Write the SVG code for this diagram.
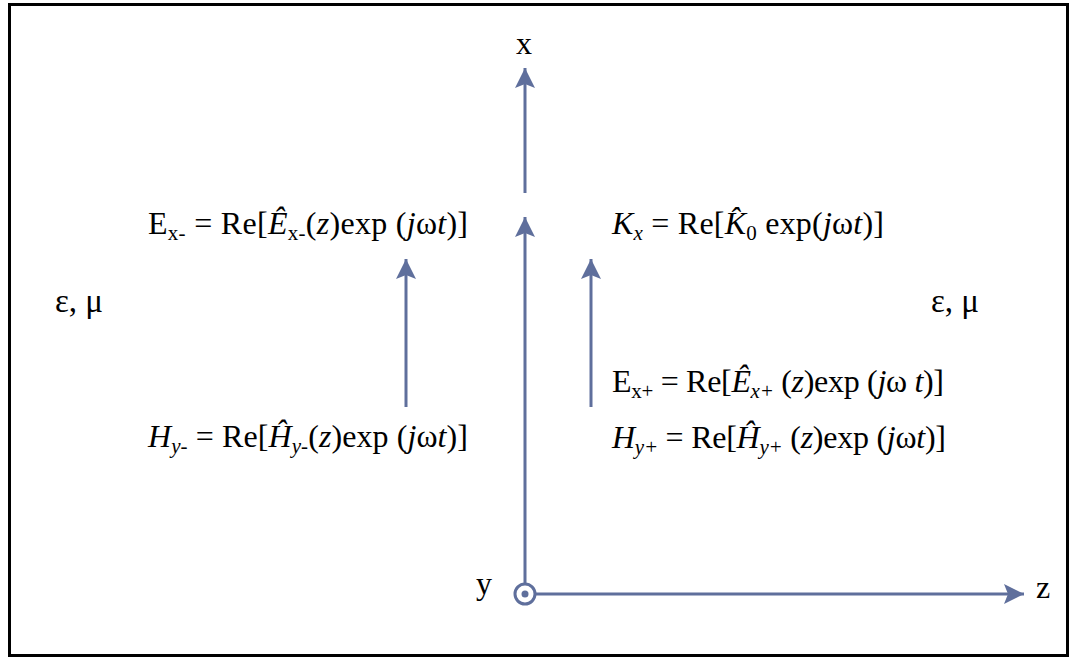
<svg xmlns="http://www.w3.org/2000/svg" width="1072" height="658" viewBox="0 0 1072 658">
<defs>
<style>
.t{font-family:"Liberation Serif","Times New Roman",serif;font-size:32px;fill:#000}
.i{font-style:italic}
.s{font-size:21px}
.ln{stroke:#5f6f9c;stroke-width:3;fill:none}
</style>
<marker id="ah" markerUnits="userSpaceOnUse" markerWidth="24" markerHeight="24" viewBox="-2 -12 24 24" refX="20" refY="0" orient="auto">
<path d="M0,-10 L20,0 L0,10 L4,0 Z" fill="#5f6f9c"/>
</marker>
</defs>
<rect x="9.5" y="4.5" width="1058" height="651" fill="#fff" stroke="#000" stroke-width="3"/>
<g id="connectors">
<line class="ln" x1="525" y1="193" x2="525" y2="68" marker-end="url(#ah)"/>
<line class="ln" x1="525" y1="583" x2="525" y2="217" marker-end="url(#ah)"/>
<line class="ln" x1="406" y1="407" x2="406" y2="259" marker-end="url(#ah)"/>
<line class="ln" x1="591" y1="407" x2="591" y2="259" marker-end="url(#ah)"/>
<line class="ln" x1="536" y1="594" x2="1024" y2="594" marker-end="url(#ah)"/>
</g>
<g id="origin">
<circle cx="525" cy="594" r="10" fill="#fff" stroke="#5f6f9c" stroke-width="3"/>
<circle cx="525" cy="594" r="3.5" fill="#5f6f9c"/>
</g>
<g id="axis-labels">
<text class="t" x="524" y="54" text-anchor="middle">x</text>
<text class="t" x="484" y="594" text-anchor="middle">y</text>
<text class="t" x="1043" y="598" text-anchor="middle">z</text>
</g>
<g id="media">
<text class="t" x="55" y="312" style="font-size:33px">ε, μ</text>
<text class="t" x="931" y="312" style="font-size:33px">ε, μ</text>
</g>
<g id="eq-ex-minus">
<text class="t" x="148" y="234" textLength="320">E<tspan class="s" dy="6">x-</tspan><tspan dy="-6"> = Re[</tspan><tspan class="i">Ê</tspan><tspan class="s" dy="6">x-</tspan><tspan dy="-6">(</tspan><tspan class="i">z</tspan>)exp (<tspan class="i">j</tspan>ω<tspan class="i">t</tspan>)]</text>
</g>
<g id="eq-hy-minus">
<text class="t" x="148" y="447" textLength="320"><tspan class="i">H</tspan><tspan class="s i" dy="6">y-</tspan><tspan dy="-6"> = Re[</tspan><tspan class="i">Ĥ</tspan><tspan class="s i" dy="6">y-</tspan><tspan dy="-6">(</tspan><tspan class="i">z</tspan>)exp (<tspan class="i">j</tspan>ω<tspan class="i">t</tspan>)]</text>
</g>
<g id="eq-kx">
<text class="t" x="612" y="234" textLength="272"><tspan class="i">K</tspan><tspan class="s i" dy="6">x</tspan><tspan dy="-6"> = Re[</tspan><tspan class="i">K̂</tspan><tspan class="s" dy="6">0</tspan><tspan dy="-6"> exp(</tspan><tspan class="i">j</tspan>ω<tspan class="i">t</tspan>)]</text>
</g>
<g id="eq-ex-plus">
<text class="t" x="612" y="392" textLength="332">E<tspan class="s" dy="6">x+</tspan><tspan dy="-6"> = Re[</tspan><tspan class="i">Ê</tspan><tspan class="s i" dy="6">x+</tspan><tspan dy="-6"> (</tspan><tspan class="i">z</tspan>)exp (<tspan class="i">j</tspan>ω <tspan class="i">t</tspan>)]</text>
</g>
<g id="eq-hy-plus">
<text class="t" x="612" y="448" textLength="334"><tspan class="i">H</tspan><tspan class="s i" dy="6">y+</tspan><tspan dy="-6"> = Re[</tspan><tspan class="i">Ĥ</tspan><tspan class="s i" dy="6">y+</tspan><tspan dy="-6"> (</tspan><tspan class="i">z</tspan>)exp (<tspan class="i">j</tspan>ω<tspan class="i">t</tspan>)]</text>
</g>
</svg>
